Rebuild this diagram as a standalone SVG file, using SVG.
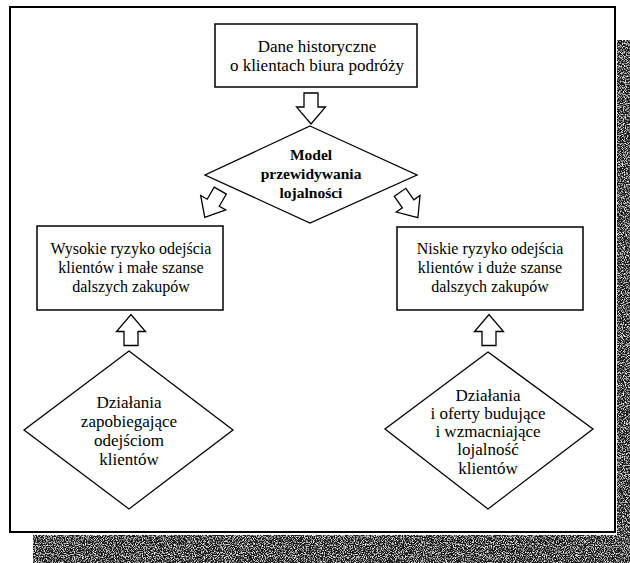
<svg xmlns="http://www.w3.org/2000/svg" width="630" height="563" viewBox="0 0 630 563">
<style>
.box{fill:#fff;stroke:#000;stroke-width:1.5}
.dia{fill:#fff;stroke:#000;stroke-width:1.3}
.arr{fill:#fff;stroke:#000;stroke-width:1.3;stroke-linejoin:miter}
text{font-family:"Liberation Serif","Times New Roman",serif;font-size:16px;fill:#000;text-anchor:middle}
.b{font-weight:bold;font-size:15.5px}
.l{font-size:17px}
</style>
<defs>
<filter id="speck" x="0" y="0" width="100%" height="100%">
<feTurbulence type="fractalNoise" baseFrequency="0.9" numOctaves="2" seed="7" result="t"/>
<feColorMatrix in="t" type="matrix" values="0 0 0 0 1  0 0 0 0 1  0 0 0 0 1  3.2 0 0 0 -1.55" result="s"/>
<feFlood flood-color="#1c1c1c" result="f"/>
<feMerge result="m"><feMergeNode in="f"/><feMergeNode in="s"/></feMerge>
<feComposite in="m" in2="SourceGraphic" operator="in"/>
</filter>
<path id="blk" d="M-7,-15.5 H7 V-1.5 H14.5 L0,15.5 L-14.5,-1.5 H-7 Z"/>
</defs>
<rect width="630" height="563" fill="#fff"/>
<g id="shadow" filter="url(#speck)">
<rect x="617" y="40" width="13" height="523" fill="#000"/>
<rect x="33" y="535" width="597" height="28" fill="#000"/>
</g>
<rect id="frame" x="10" y="7" width="605" height="525" fill="#fff" stroke="#000" stroke-width="2"/>

<g id="connectors">
<use href="#blk" class="arr" transform="translate(311,108.5)"/>
<use href="#blk" class="arr" transform="translate(212.5,204) rotate(30)"/>
<use href="#blk" class="arr" transform="translate(409,205) rotate(-35)"/>
<use href="#blk" class="arr" transform="translate(131,330) rotate(180)"/>
<use href="#blk" class="arr" transform="translate(489,330) rotate(180)"/>
</g>

<g id="n_dane">
<rect class="box" x="215" y="24" width="202" height="63"/>
<text class="l" x="317" y="52">Dane historyczne</text>
<text class="l" x="317" y="71">o klientach biura podróży</text>
</g>

<g id="n_model">
<polygon class="dia" points="310,126 417,175 310,223 205,175"/>
<text class="b" x="311" y="160">Model</text>
<text class="b" x="311" y="179">przewidywania</text>
<text class="b" x="311" y="198">lojalności</text>
</g>

<g id="n_wysokie">
<rect class="box" x="37" y="226" width="186" height="84"/>
<text x="131" y="254">Wysokie ryzyko odejścia</text>
<text x="131" y="273">klientów i małe szanse</text>
<text x="131" y="292">dalszych zakupów</text>
</g>

<g id="n_niskie">
<rect class="box" x="397" y="227" width="186" height="83"/>
<text x="490" y="254">Niskie ryzyko odejścia</text>
<text x="490" y="273">klientów i duże szanse</text>
<text x="490" y="292">dalszych zakupów</text>
</g>

<g id="n_zapobieg">
<polygon class="dia" points="129,351 233,430 129,509 24,430"/>
<text class="l" x="129" y="408">Działania</text>
<text class="l" x="129" y="427">zapobiegające</text>
<text class="l" x="129" y="446">odejściom</text>
<text class="l" x="129" y="465">klientów</text>
</g>

<g id="n_budujace">
<polygon class="dia" points="488,352 593,429 488,509 385,429"/>
<text class="l" x="488" y="401">Działania</text>
<text class="l" x="488" y="419">i oferty budujące</text>
<text class="l" x="488" y="437">i wzmacniające</text>
<text class="l" x="488" y="455">lojalność</text>
<text class="l" x="488" y="474">klientów</text>
</g>
</svg>
